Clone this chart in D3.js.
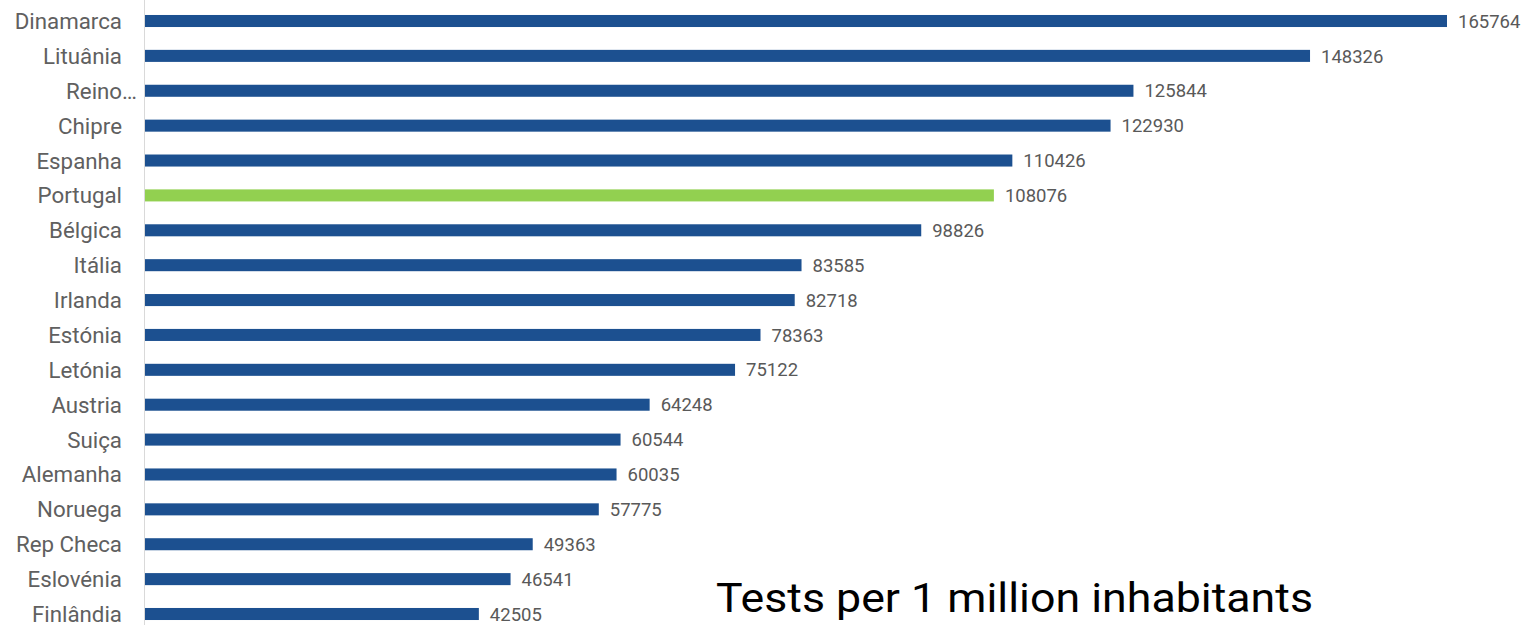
<!DOCTYPE html>
<html><head><meta charset="utf-8">
<script src="https://cdn.jsdelivr.net/npm/d3@7"></script>
<style>html,body{margin:0;padding:0;background:#fff;overflow:hidden}</style>
</head><body>
<svg id="c" width="1526" height="625"></svg>
<script>
const countries = ["Dinamarca","Lituânia","Reino…","Chipre","Espanha","Portugal","Bélgica","Itália","Irlanda","Estónia","Letónia","Austria","Suiça","Alemanha","Noruega","Rep Checa","Eslovénia","Finlândia"];
const values = [165764,148326,125844,122930,110426,108076,98826,83585,82718,78363,75122,64248,60544,60035,57775,49363,46541,42505];
const highlight = ["Portugal"];
const title = "Tests per 1 million inhabitants";

const svg = d3.select("#c");
const x0 = 145;
const x = d3.scaleLinear().domain([0, 165764]).range([x0, 1447]);
const y = d3.scaleBand().domain(countries).range([3.56, 631.44]).paddingInner(0.655).paddingOuter(0.3275);

svg.append("line").attr("x1", 144.5).attr("x2", 144.5).attr("y1", 0).attr("y2", 625)
  .attr("stroke", "#d9d9d9").attr("stroke-width", 1);

const data = countries.map((c, i) => ({c, v: values[i]}));

svg.selectAll("rect.bar").data(data).join("rect").attr("class", "bar")
  .attr("x", x(0)).attr("y", d => y(d.c))
  .attr("width", d => x(d.v) - x(0)).attr("height", y.bandwidth())
  .attr("fill", d => highlight.includes(d.c) ? "#92d050" : "#1c5090");

svg.selectAll("text.lab").data(data).join("text").attr("class", "lab")
  .attr("x", d => d.c.endsWith("…") ? 137 : 122)
  .attr("y", d => y(d.c) + y.bandwidth() / 2)
  .attr("dy", "0.36em").attr("text-anchor", "end")
  .attr("font-family", "Roboto").attr("font-size", 22.3).attr("fill", "#606060")
  .text(d => d.c);

svg.selectAll("text.val").data(data).join("text").attr("class", "val")
  .attr("x", d => x(d.v) + 11)
  .attr("y", d => y(d.c) + y.bandwidth() / 2)
  .attr("dy", "0.36em")
  .attr("font-family", "Roboto").attr("font-size", 18.5).attr("fill", "#595959")
  .text(d => d.v);

svg.append("text").attr("x", 716).attr("y", 611.5)
  .attr("font-family", "Roboto").attr("font-size", 41).attr("fill", "#000")
  .attr("textLength", 597).attr("lengthAdjust", "spacingAndGlyphs")
  .text(title);
</script>
</body></html>
